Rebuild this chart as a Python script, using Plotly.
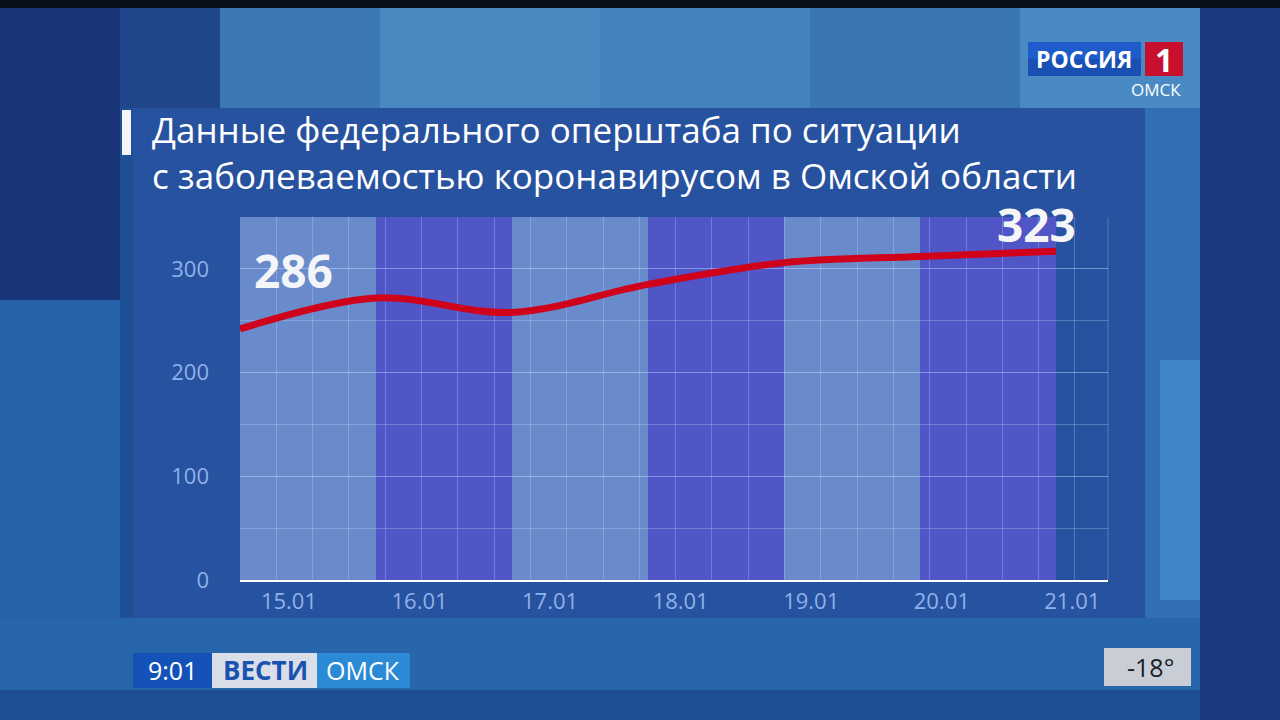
import plotly.graph_objects as go

W, H = 1280, 720
FONT = "Open Sans, Noto Sans, sans-serif"

# data
DATES = ["15.01", "16.01", "17.01", "18.01", "19.01", "20.01", "21.01"]
CASES = [242, 272, 258, 285, 306, 312, 317]
FIRST_LABEL = "286"
LAST_LABEL = "323"
Y_TICKS = [0, 100, 200, 300]
TITLE_LINES = ["Данные федерального оперштаба по ситуации",
               "с заболеваемостью коронавирусом в Омской области"]

BAND_LIGHT = "#6a8bcb"
BAND_PURPLE = "#5156c6"
LINE_RED = "#d0021b"
TICK_BLUE = "#8fb1ea"

# plot area in pixels
PL, PR, PT, PB = 240, 1108, 217, 580


def px(x):
    return (x - PL) / (PR - PL)


def py(y):
    return (PB - y) / (PB - PT)


def rect(x0, y0, x1, y1, color, layer="below"):
    return dict(type="rect", xref="paper", yref="paper",
                x0=px(x0), x1=px(x1), y0=py(y1), y1=py(y0),
                fillcolor=color, line_width=0, layer=layer)


def label(x, y, text, size, color="white", anchor="center"):
    return dict(x=px(x), y=py(y), xref="paper", yref="paper", xanchor=anchor,
                yanchor="middle", text=text, showarrow=False, align="left",
                font=dict(family=FONT, size=size, color=color))


x_idx = list(range(len(DATES)))

fig = go.Figure()
fig.add_trace(go.Scatter(
    x=x_idx, y=CASES, mode="lines",
    line=dict(color=LINE_RED, width=7, shape="spline", smoothing=1.0),
    hoverinfo="skip", showlegend=False,
))

shapes = []
# tv background
shapes += [
    rect(0, 0, W, H, "#1f4f95"),
    rect(0, 8, 120, 720, "#1a3578"),
    rect(0, 300, 120, 620, "#2562a8"),
    rect(120, 8, 220, 108, "#20468c"),
    rect(220, 8, 380, 108, "#3c78b6"),
    rect(380, 8, 600, 108, "#4a88c2"),
    rect(600, 8, 810, 108, "#4384c0"),
    rect(810, 8, 1020, 108, "#3a76b3"),
    rect(1020, 8, 1200, 108, "#4a8ac4"),
    rect(1200, 8, 1280, 720, "#1c3a80"),
    rect(1145, 108, 1200, 720, "#2f6fb2"),
    rect(1160, 360, 1200, 600, "#3f86c6"),
    rect(0, 618, 1200, 720, "#2766aa"),
    rect(0, 690, 1200, 720, "#1e4f93"),
    rect(0, 0, W, 8, "#0a0f1c"),
]
# chart panel
shapes.append(rect(133, 108, 1145, 618, "#27529f"))
shapes.append(rect(122, 110, 131, 155, "#f2f4f8"))
# day bands
for i in range(len(DATES) - 1):
    shapes.append(dict(type="rect", xref="x", yref="paper",
                       x0=x_idx[i], x1=x_idx[i + 1], y0=0, y1=1,
                       fillcolor=BAND_LIGHT if i % 2 == 0 else BAND_PURPLE,
                       line_width=0, layer="below"))
# logo and bottom bars
shapes += [
    rect(1028, 42, 1141, 76, "#1e5ccc"),
    rect(1028, 59, 1141, 76, "#1a4fb4"),
    rect(1145, 42, 1183, 76, "#c8102e"),
    rect(133, 653, 212, 688, "#1552b8"),
    rect(212, 653, 317, 688, "#d9dee8"),
    rect(317, 653, 410, 688, "#2a8ad6"),
    rect(1104, 648, 1191, 686, "#c9cdd6"),
]

annotations = [
    label(150, 152, "<br>".join(TITLE_LINES), 35, anchor="left"),
    dict(x=x_idx[0], y=CASES[0], xref="x", yref="y", xanchor="left", yanchor="bottom",
         xshift=12, yshift=26, text=f"<b>{FIRST_LABEL}</b>", showarrow=False,
         font=dict(family=FONT, size=46, color="#f4f5f8")),
    dict(x=x_idx[-1], y=CASES[-1], xref="x", yref="y", xanchor="center", yanchor="bottom",
         xshift=-20, yshift=-6, text=f"<b>{LAST_LABEL}</b>", showarrow=False,
         font=dict(family=FONT, size=46, color="#f4f5f8")),
    label(1084, 59, "<b>РОССИЯ</b>", 23),
    label(1164, 59, "<b>1</b>", 32),
    label(1183, 89, "ОМСК", 17, anchor="right"),
    label(172, 670, "9:01", 25),
    label(265, 670, "<b>ВЕСТИ</b>", 26, color="#1a52b0"),
    label(363, 670, "ОМСК", 25),
    label(1150, 667, "-18°", 25, color="#1a1d26"),
]

grid_col = "rgba(200,220,255,0.28)"
fig.update_layout(
    width=W, height=H,
    margin=dict(l=PL, r=W - PR, t=PT, b=H - PB),
    paper_bgcolor="#1f4f95",
    plot_bgcolor="rgba(0,0,0,0)",
    font=dict(family=FONT),
    shapes=shapes,
    annotations=annotations,
    showlegend=False,
    xaxis=dict(
        range=[0, (PR - PL) / 136],
        tickvals=[i + 0.36 - 0.04 * i for i in x_idx],
        ticktext=DATES,
        showgrid=False, zeroline=False,
        showline=True, linecolor="white", linewidth=2,
        ticks="", ticklabelstandoff=1,
        tickfont=dict(family=FONT, size=22, color=TICK_BLUE),
        minor=dict(tick0=0, dtick=36.3 / 136, showgrid=True, gridcolor=grid_col, gridwidth=1),
        fixedrange=True,
    ),
    yaxis=dict(
        range=[0, 350],
        tickvals=Y_TICKS,
        showgrid=True, gridcolor=grid_col, gridwidth=1,
        zeroline=False, ticks="", ticklabelstandoff=30,
        tickfont=dict(family=FONT, size=22, color=TICK_BLUE),
        minor=dict(dtick=50, showgrid=True, gridcolor=grid_col, gridwidth=1),
        fixedrange=True,
    ),
)

# right border of grid
fig.add_shape(type="line", xref="paper", yref="paper", x0=1, x1=1, y0=0, y1=1,
              line=dict(color=grid_col, width=1), layer="below")

fig.write_html("out.html", config={"displayModeBar": False},
               post_script="document.body.style.margin='0';")
